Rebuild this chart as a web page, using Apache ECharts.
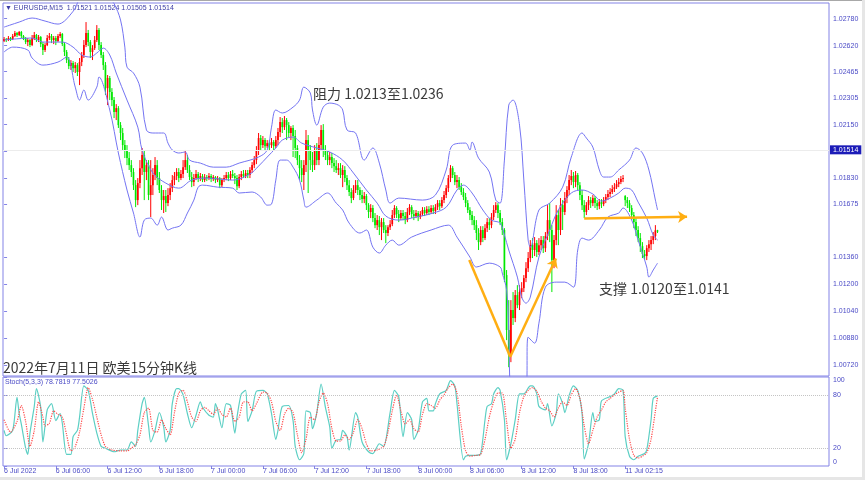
<!DOCTYPE html>
<html><head><meta charset="utf-8">
<script src="https://cdn.jsdelivr.net/npm/echarts@6/dist/echarts.min.js"></script>
<style>html,body{margin:0;padding:0;background:#fff}#c{width:865px;height:480px}</style>
</head><body><div id="c"></div>
<script>
const SLOTS = 383;
const tickLabels = ['6 Jul 2022','6 Jul 06:00','6 Jul 12:00','6 Jul 18:00','7 Jul 00:00','7 Jul 06:00','7 Jul 12:00','7 Jul 18:00','8 Jul 00:00','8 Jul 06:00','8 Jul 12:00','8 Jul 18:00','11 Jul 02:15'];
const yTickValues = [1.0072,1.0088,1.0104,1.0120,1.0136,1.01675,1.0183,1.0199,1.0215,1.02305,1.02465,1.0262,1.0278];
const stochTicks = [0,20,80,100];
const stochLevels = [20,80];
const symbolName = 'EURUSD#,M15';

const opens = [1.02647,1.02659,1.02653,1.02665,1.02659,1.02677,1.02695,1.02683,1.02701,1.02677,
1.02665,1.02641,1.02653,1.02623,1.02665,1.02683,1.02653,1.02671,1.02629,1.02594,
1.02623,1.02665,1.02677,1.02653,1.02665,1.02647,1.02677,1.02689,1.02629,1.02582,
1.02534,1.02498,1.02516,1.02486,1.02504,1.02463,1.02522,1.02564,1.02623,1.02695,
1.02641,1.02582,1.02605,1.02653,1.02713,1.02623,1.02564,1.02504,1.02367,1.02427,
1.02344,1.02296,1.02225,1.02248,1.02147,1.02100,1.02028,1.01999,1.01951,1.01909,
1.01868,1.01790,1.01701,1.01802,1.01891,1.01969,1.01868,1.01909,1.01731,1.01790,
1.01850,1.01909,1.01832,1.01761,1.01701,1.01725,1.01683,1.01731,1.01772,1.01820,
1.01844,1.01868,1.01832,1.01856,1.01897,1.01939,1.01880,1.01838,1.01808,1.01832,
1.01856,1.01832,1.01844,1.01820,1.01838,1.01832,1.01844,1.01826,1.01838,1.01820,
1.01832,1.01790,1.01820,1.01832,1.01850,1.01832,1.01856,1.01844,1.01832,1.01784,
1.01838,1.01856,1.01844,1.01862,1.01850,1.01880,1.01909,1.01939,1.01999,1.02070,
1.02028,1.02058,1.02022,1.02040,1.02028,1.02046,1.02022,1.02058,1.02106,1.02165,
1.02135,1.02177,1.02147,1.02100,1.02130,1.02082,1.02011,1.01939,1.01891,1.01850,
1.01909,1.02058,1.01999,1.01939,1.01909,1.01999,1.01939,1.02028,1.02118,1.01999,
1.01969,1.01939,1.01957,1.01921,1.01903,1.01880,1.01891,1.01850,1.01880,1.01832,
1.01790,1.01749,1.01713,1.01761,1.01790,1.01761,1.01731,1.01707,1.01725,1.01671,
1.01630,1.01654,1.01594,1.01552,1.01582,1.01540,1.01570,1.01523,1.01505,1.01540,
1.01558,1.01612,1.01654,1.01618,1.01594,1.01624,1.01606,1.01582,1.01630,1.01659,
1.01618,1.01606,1.01624,1.01600,1.01618,1.01642,1.01624,1.01647,1.01630,1.01654,
1.01636,1.01659,1.01683,1.01665,1.01701,1.01731,1.01772,1.01832,1.01891,1.01850,
1.01808,1.01820,1.01778,1.01749,1.01719,1.01683,1.01642,1.01612,1.01582,1.01552,
1.01505,1.01451,1.01523,1.01475,1.01534,1.01570,1.01552,1.01600,1.01642,1.01671,
1.01624,1.01570,1.01523,1.01255,1.00928,1.00779,1.01047,1.00999,1.01136,1.01076,
1.01154,1.01177,1.01237,1.01296,1.01356,1.01433,1.01404,1.01445,1.01392,1.01433,
1.01463,1.01415,1.01487,1.01582,1.01523,1.01344,1.01463,1.01612,1.01523,1.01671,
1.01630,1.01713,1.01761,1.01820,1.01844,1.01808,1.01850,1.01790,1.01731,1.01671,
1.01630,1.01671,1.01701,1.01683,1.01713,1.01683,1.01665,1.01689,1.01677,1.01701,
1.01719,1.01737,1.01749,1.01767,1.01778,1.01796,1.01808,1.01826,1.01725,1.01701,
1.01683,1.01654,1.01612,1.01570,1.01523,1.01475,1.01427,1.01380,1.01368,1.01415,
1.01439,1.01463,1.01487,1.01521];

const closes = [1.02659,1.02653,1.02665,1.02659,1.02677,1.02695,1.02683,1.02701,1.02677,1.02665,
1.02641,1.02653,1.02623,1.02665,1.02683,1.02653,1.02671,1.02629,1.02594,1.02623,
1.02665,1.02677,1.02653,1.02665,1.02647,1.02677,1.02689,1.02629,1.02582,1.02534,
1.02498,1.02516,1.02486,1.02504,1.02463,1.02522,1.02564,1.02623,1.02695,1.02641,
1.02582,1.02605,1.02653,1.02713,1.02623,1.02564,1.02504,1.02367,1.02427,1.02344,
1.02296,1.02225,1.02248,1.02147,1.02100,1.02028,1.01999,1.01951,1.01909,1.01868,
1.01790,1.01701,1.01802,1.01891,1.01969,1.01868,1.01909,1.01731,1.01790,1.01850,
1.01909,1.01832,1.01761,1.01701,1.01725,1.01683,1.01731,1.01772,1.01820,1.01844,
1.01868,1.01832,1.01856,1.01897,1.01939,1.01880,1.01838,1.01808,1.01832,1.01856,
1.01832,1.01844,1.01820,1.01838,1.01832,1.01844,1.01826,1.01838,1.01820,1.01832,
1.01790,1.01820,1.01832,1.01850,1.01832,1.01856,1.01844,1.01832,1.01784,1.01838,
1.01856,1.01844,1.01862,1.01850,1.01880,1.01909,1.01939,1.01999,1.02070,1.02028,
1.02058,1.02022,1.02040,1.02028,1.02046,1.02022,1.02058,1.02106,1.02165,1.02135,
1.02177,1.02147,1.02100,1.02130,1.02082,1.02011,1.01939,1.01891,1.01850,1.01909,
1.02058,1.01999,1.01939,1.01909,1.01999,1.01939,1.02028,1.02118,1.01999,1.01969,
1.01939,1.01957,1.01921,1.01903,1.01880,1.01891,1.01850,1.01880,1.01832,1.01790,
1.01749,1.01713,1.01761,1.01790,1.01761,1.01731,1.01707,1.01725,1.01671,1.01630,
1.01654,1.01594,1.01552,1.01582,1.01540,1.01570,1.01523,1.01505,1.01540,1.01558,
1.01612,1.01654,1.01618,1.01594,1.01624,1.01606,1.01582,1.01630,1.01659,1.01618,
1.01606,1.01624,1.01600,1.01618,1.01642,1.01624,1.01647,1.01630,1.01654,1.01636,
1.01659,1.01683,1.01665,1.01701,1.01731,1.01772,1.01832,1.01891,1.01850,1.01808,
1.01820,1.01778,1.01749,1.01719,1.01683,1.01642,1.01612,1.01582,1.01552,1.01505,
1.01451,1.01523,1.01475,1.01534,1.01570,1.01552,1.01600,1.01642,1.01671,1.01624,
1.01570,1.01523,1.01255,1.00928,1.00779,1.01047,1.00999,1.01136,1.01076,1.01154,
1.01177,1.01237,1.01296,1.01356,1.01433,1.01404,1.01445,1.01392,1.01433,1.01463,
1.01415,1.01487,1.01582,1.01523,1.01344,1.01463,1.01612,1.01523,1.01671,1.01630,
1.01713,1.01761,1.01820,1.01844,1.01808,1.01850,1.01790,1.01731,1.01671,1.01630,
1.01671,1.01701,1.01683,1.01713,1.01683,1.01665,1.01689,1.01677,1.01701,1.01719,
1.01737,1.01749,1.01767,1.01778,1.01796,1.01808,1.01826,1.01832,1.01701,1.01683,
1.01654,1.01612,1.01570,1.01523,1.01475,1.01427,1.01380,1.01368,1.01415,1.01439,
1.01463,1.01487,1.01521,1.01514];

const highs = [1.02671,1.02665,1.02677,1.02671,1.02689,1.02707,1.02701,1.02707,1.02707,1.02683,
1.02671,1.02665,1.02659,1.02683,1.02701,1.02689,1.02683,1.02677,1.02641,1.02635,
1.02683,1.02695,1.02689,1.02677,1.02677,1.02689,1.02701,1.02695,1.02641,1.02594,
1.02552,1.02534,1.02528,1.02522,1.02516,1.02546,1.02582,1.02653,1.02760,1.02713,
1.02653,1.02623,1.02677,1.02742,1.02724,1.02641,1.02582,1.02522,1.02445,1.02439,
1.02367,1.02314,1.02272,1.02260,1.02165,1.02130,1.02058,1.02028,1.01987,1.01939,
1.01891,1.01820,1.01832,1.01939,1.02011,1.01999,1.01939,1.01939,1.01939,1.01891,
1.01957,1.01939,1.01868,1.01790,1.01761,1.01761,1.01772,1.01802,1.01850,1.01868,
1.01891,1.01891,1.01880,1.01939,1.01999,1.01969,1.01909,1.01868,1.01856,1.01880,
1.01868,1.01862,1.01856,1.01856,1.01850,1.01862,1.01856,1.01850,1.01844,1.01844,
1.01838,1.01832,1.01850,1.01868,1.01868,1.01874,1.01880,1.01862,1.01850,1.01856,
1.01874,1.01880,1.01880,1.01880,1.01897,1.01927,1.01963,1.02022,1.02100,1.02088,
1.02082,1.02070,1.02058,1.02058,1.02070,1.02058,1.02082,1.02130,1.02195,1.02189,
1.02201,1.02189,1.02165,1.02141,1.02147,1.02118,1.02028,1.01969,1.01939,1.01939,
1.02118,1.02088,1.02028,1.01987,1.02028,1.02040,1.02076,1.02147,1.02153,1.02028,
1.01999,1.01987,1.01981,1.01951,1.01939,1.01921,1.01921,1.01909,1.01903,1.01850,
1.01820,1.01772,1.01790,1.01820,1.01820,1.01778,1.01761,1.01749,1.01737,1.01683,
1.01677,1.01671,1.01624,1.01612,1.01606,1.01594,1.01594,1.01552,1.01552,1.01582,
1.01642,1.01671,1.01665,1.01642,1.01642,1.01642,1.01630,1.01654,1.01677,1.01671,
1.01642,1.01642,1.01636,1.01636,1.01659,1.01659,1.01665,1.01665,1.01671,1.01671,
1.01677,1.01701,1.01701,1.01719,1.01755,1.01790,1.01850,1.01909,1.01903,1.01868,
1.01850,1.01838,1.01802,1.01772,1.01743,1.01701,1.01659,1.01636,1.01606,1.01582,
1.01534,1.01546,1.01546,1.01558,1.01594,1.01594,1.01624,1.01671,1.01689,1.01683,
1.01642,1.01594,1.01534,1.01285,1.01106,1.01106,1.01154,1.01166,1.01195,1.01195,
1.01213,1.01255,1.01332,1.01392,1.01463,1.01475,1.01481,1.01463,1.01475,1.01487,
1.01487,1.01511,1.01671,1.01683,1.01552,1.01493,1.01671,1.01642,1.01713,1.01701,
1.01749,1.01784,1.01850,1.01880,1.01868,1.01874,1.01862,1.01808,1.01761,1.01701,
1.01689,1.01725,1.01719,1.01731,1.01725,1.01701,1.01707,1.01707,1.01719,1.01737,
1.01761,1.01772,1.01790,1.01802,1.01820,1.01832,1.01844,1.01850,1.01731,1.01719,
1.01701,1.01671,1.01630,1.01594,1.01546,1.01505,1.01451,1.01404,1.01433,1.01463,
1.01487,1.01511,1.01552,1.01524];

const lows = [1.02641,1.02641,1.02647,1.02647,1.02653,1.02671,1.02671,1.02677,1.02665,1.02653,
1.02629,1.02617,1.02611,1.02617,1.02653,1.02641,1.02641,1.02611,1.02564,1.02582,
1.02617,1.02653,1.02635,1.02629,1.02623,1.02641,1.02665,1.02617,1.02558,1.02516,
1.02480,1.02475,1.02463,1.02457,1.02439,1.02385,1.02498,1.02546,1.02611,1.02617,
1.02546,1.02534,1.02594,1.02641,1.02594,1.02546,1.02475,1.02326,1.02266,1.02296,
1.02260,1.02189,1.02177,1.02130,1.02058,1.01999,1.01951,1.01909,1.01880,1.01838,
1.01761,1.01659,1.01671,1.01772,1.01850,1.01701,1.01820,1.01701,1.01600,1.01731,
1.01820,1.01790,1.01743,1.01642,1.01624,1.01630,1.01665,1.01701,1.01749,1.01790,
1.01820,1.01808,1.01820,1.01832,1.01880,1.01862,1.01820,1.01778,1.01784,1.01820,
1.01808,1.01814,1.01808,1.01808,1.01814,1.01820,1.01808,1.01814,1.01802,1.01808,
1.01772,1.01778,1.01808,1.01820,1.01814,1.01820,1.01832,1.01796,1.01761,1.01772,
1.01820,1.01832,1.01832,1.01832,1.01832,1.01862,1.01891,1.01915,1.01969,1.01999,
1.02011,1.01999,1.02011,1.01999,1.02011,1.01999,1.02011,1.02028,1.02076,1.02100,
1.02118,1.02058,1.02076,1.02058,1.01957,1.01951,1.01909,1.01820,1.01808,1.01761,
1.01868,1.01743,1.01880,1.01868,1.01880,1.01909,1.01909,1.01999,1.01957,1.01939,
1.01909,1.01909,1.01891,1.01868,1.01862,1.01850,1.01832,1.01778,1.01808,1.01761,
1.01725,1.01683,1.01701,1.01743,1.01731,1.01701,1.01683,1.01683,1.01642,1.01594,
1.01594,1.01570,1.01534,1.01523,1.01493,1.01463,1.01505,1.01445,1.01487,1.01523,
1.01546,1.01594,1.01594,1.01570,1.01582,1.01582,1.01558,1.01570,1.01612,1.01594,
1.01582,1.01594,1.01576,1.01588,1.01606,1.01606,1.01612,1.01612,1.01618,1.01618,
1.01618,1.01642,1.01642,1.01654,1.01683,1.01713,1.01749,1.01808,1.01832,1.01790,
1.01772,1.01761,1.01731,1.01701,1.01659,1.01624,1.01582,1.01552,1.01523,1.01463,
1.01404,1.01433,1.01451,1.01463,1.01511,1.01523,1.01534,1.01582,1.01624,1.01594,
1.01552,1.01493,1.01213,1.00868,1.00707,1.00737,1.00958,1.00975,1.01058,1.01047,
1.01118,1.01154,1.01213,1.01273,1.01332,1.01356,1.01368,1.01362,1.01374,1.01404,
1.01386,1.01392,1.01463,1.01451,1.01154,1.01296,1.01433,1.01433,1.01493,1.01523,
1.01612,1.01683,1.01731,1.01790,1.01772,1.01778,1.01761,1.01701,1.01642,1.01594,
1.01612,1.01642,1.01654,1.01665,1.01654,1.01642,1.01647,1.01654,1.01665,1.01683,
1.01701,1.01719,1.01737,1.01749,1.01767,1.01778,1.01796,1.01808,1.01665,1.01654,
1.01630,1.01582,1.01534,1.01487,1.01451,1.01392,1.01356,1.01344,1.01344,1.01392,
1.01404,1.01439,1.01463,1.01505];

const bbUpper = [[0,1.02730],[7,1.02760],[13,1.02784],[19,1.02766],[25,1.02748],[28,1.02766],[31,1.02808],[33,1.02843],[35,1.0290],[38,1.0294],[42,1.0297],[46,1.0295],[49,1.0290],[51,1.02870],[54,1.02772],[56,1.02611],[57,1.02492],[60,1.02457],[63,1.02373],[66,1.02118],[69,1.02100],[74,1.02100],[76,1.02040],[78,1.01999],[81,1.01981],[84,1.01987],[86,1.01939],[91,1.01921],[97,1.01897],[103,1.01897],[109,1.01921],[118,1.01957],[122,1.01999],[124,1.02135],[126,1.02237],[129,1.02219],[134,1.02254],[137,1.02296],[139,1.02373],[142,1.02338],[143,1.02237],[145,1.02147],[148,1.02254],[151,1.02278],[155,1.02266],[157,1.02237],[159,1.02118],[163,1.02100],[167,1.01939],[171,1.02011],[174,1.01921],[177,1.01761],[179,1.01683],[183,1.01713],[194,1.01701],[200,1.01731],[205,1.01880],[208,1.02028],[214,1.02040],[216,1.01999],[217,1.02046],[220,1.01951],[225,1.01868],[228,1.01701],[230,1.01683],[232,1.01939],[234,1.02266],[236,1.02296],[239,1.02147],[241,1.01820],[243,1.01463],[244,1.01421],[248,1.01642],[253,1.01683],[259,1.01778],[263,1.01957],[268,1.02100],[270,1.02070],[273,1.02016],[276,1.01880],[278,1.01838],[281,1.01838],[285,1.01880],[290,1.01939],[293,1.02011],[296,1.01981],[299,1.01880],[302,1.01701],[303,1.01642]];

const bbMiddle = [[0,1.02653],[13,1.02665],[18,1.02641],[27,1.02641],[32,1.02611],[36,1.02564],[40,1.02552],[43,1.02576],[46,1.02605],[49,1.02564],[52,1.02457],[57,1.02296],[62,1.02135],[64,1.01999],[69,1.01862],[75,1.01802],[81,1.01772],[87,1.01820],[94,1.01832],[106,1.01820],[114,1.01856],[118,1.01903],[122,1.01957],[126,1.02011],[129,1.02058],[134,1.02076],[138,1.02040],[145,1.02011],[151,1.01987],[157,1.01939],[162,1.01862],[168,1.01761],[173,1.01683],[177,1.01606],[183,1.01582],[191,1.01600],[199,1.01624],[205,1.01659],[210,1.01761],[213,1.01790],[217,1.01743],[222,1.01642],[226,1.01582],[230,1.01564],[232,1.01493],[234,1.01404],[238,1.01243],[240,1.01124],[242,1.01088],[244,1.01124],[248,1.01362],[253,1.01523],[257,1.01642],[263,1.01743],[268,1.01761],[273,1.01737],[277,1.01695],[281,1.01713],[285,1.01743],[288,1.01772],[291,1.01761],[294,1.01689],[298,1.01594],[301,1.01493],[303,1.01463]];

const bbLower = [[0,1.02582],[4,1.02611],[11,1.02594],[13,1.02546],[18,1.02504],[25,1.02522],[29,1.02552],[33,1.02373],[35,1.02296],[37,1.02356],[39,1.02296],[43,1.02373],[44,1.02433],[49,1.02237],[53,1.01981],[57,1.01761],[60,1.01624],[63,1.01481],[65,1.01582],[68,1.01594],[71,1.01552],[73,1.01600],[76,1.01523],[78,1.01534],[82,1.01552],[85,1.01624],[88,1.01701],[90,1.01778],[92,1.01790],[99,1.01778],[106,1.01772],[109,1.01743],[115,1.01749],[119,1.01719],[122,1.01671],[124,1.01677],[126,1.01820],[128,1.01939],[131,1.01939],[134,1.01897],[137,1.01820],[139,1.01701],[140,1.01659],[145,1.01701],[150,1.01743],[154,1.01683],[157,1.01642],[160,1.01564],[165,1.01505],[168,1.01523],[171,1.01421],[174,1.01386],[177,1.01433],[180,1.01463],[183,1.01433],[189,1.01481],[198,1.01523],[206,1.01552],[210,1.01481],[216,1.01362],[219,1.01303],[225,1.01326],[230,1.01303],[231,1.01267],[233,1.01166],[234,1.00928],[235,1.0051],[238,1.0033],[242,1.0051],[243,1.00886],[246,1.00850],[248,1.00969],[251,1.01183],[256,1.01213],[260,1.01213],[264,1.01183],[266,1.01404],[268,1.01475],[271,1.01463],[276,1.01523],[280,1.01600],[285,1.01624],[287,1.01654],[291,1.01582],[294,1.01463],[298,1.01303],[299,1.01243],[301,1.01285],[303,1.01326]];

const stochK = [[0,40],[1,34],[4,40],[6,77],[7,59],[8,47],[10,20],[11,13],[12,37],[14,67],[15,87],[17,66],[18,27],[20,63],[22,70],[24,51],[26,59],[27,48],[29,13],[31,13],[32,33],[34,40],[35,55],[37,90],[39,85],[41,59],[43,37],[45,22],[47,20],[51,16],[54,18],[57,18],[59,27],[61,22],[62,40],[64,70],[65,77],[67,45],[68,27],[70,40],[72,60],[74,44],[75,27],[77,40],[78,70],[80,87],[81,87],[83,80],[85,59],[87,43],[89,57],[91,72],[92,66],[95,57],[97,55],[98,70],[99,63],[101,43],[103,70],[105,68],[107,37],[108,55],[110,81],[112,85],[113,50],[115,62],[117,84],[120,85],[122,81],[124,59],[126,30],[127,40],[129,67],[132,68],[134,51],[135,22],[137,7],[139,14],[140,62],[142,60],[143,42],[145,60],[147,92],[149,66],[151,44],[152,20],[154,29],[156,30],[157,40],[159,33],[160,18],[163,60],[164,55],[166,27],[169,16],[171,14],[174,25],[176,22],[179,60],[181,85],[183,78],[185,33],[187,60],[189,52],[190,30],[192,40],[194,72],[196,76],[197,62],[199,62],[200,70],[202,81],[205,85],[207,96],[209,90],[210,70],[213,7],[214,11],[216,12],[219,12],[221,14],[223,52],[224,67],[226,70],[227,81],[229,88],[230,85],[232,52],[233,7],[235,25],[237,52],[239,81],[241,81],[244,90],[245,90],[247,81],[248,67],[251,63],[252,70],[254,45],[256,59],[257,81],[259,70],[260,60],[262,79],[264,90],[266,85],[268,59],[269,8],[271,25],[273,60],[274,50],[276,52],[277,73],[281,78],[283,81],[285,87],[287,85],[288,33],[290,11],[292,7],[294,11],[297,14],[298,18],[300,52],[301,76],[303,78.7819]];

const stochD = [[0,52],[3,38],[6,50],[8,68],[10,50],[12,22],[14,40],[16,72],[18,55],[19,45],[21,48],[23,62],[25,58],[27,55],[29,35],[31,17],[33,22],[35,38],[37,65],[39,88],[41,75],[43,55],[45,35],[47,22],[50,18],[54,17],[57,17],[59,20],[61,24],[63,35],[65,60],[67,65],[69,40],[71,38],[73,52],[75,42],[77,35],[79,60],[81,82],[83,85],[85,72],[87,55],[89,50],[91,62],[93,66],[95,62],[97,58],[99,65],[101,58],[103,55],[105,65],[107,50],[109,55],[111,72],[113,72],[115,62],[117,70],[120,83],[122,82],[124,72],[126,50],[128,40],[130,58],[132,65],[134,60],[136,35],[138,15],[140,30],[142,55],[144,52],[146,72],[148,82],[150,70],[152,42],[154,28],[156,28],[158,35],[160,30],[162,38],[164,52],[166,42],[168,25],[170,17],[173,18],[176,22],[178,38],[180,62],[182,80],[184,62],[186,47],[188,52],[190,42],[192,38],[194,58],[196,70],[198,68],[200,65],[202,74],[204,80],[206,88],[208,92],[210,82],[212,45],[214,17],[216,11],[219,12],[221,13],[223,30],[225,55],[227,72],[229,82],[231,82],[233,50],[235,20],[237,30],[239,60],[241,78],[243,85],[245,88],[247,84],[249,73],[251,65],[253,62],[255,55],[257,65],[259,72],[261,68],[263,80],[265,87],[267,76],[269,45],[271,25],[273,40],[275,55],[277,63],[279,72],[281,76],[283,80],[285,83],[287,85],[288,65],[290,30],[292,12],[294,9],[296,11],[298,15],[300,30],[302,62],[303,77.5026]];

const vLeftLine = [[215.7,1.01344],[234.7,1.00769]];
const vRightArrow = [[234.7,1.00769],[255.9,1.01354]];
const flatArrow = [[269,1.01592],[316.7,1.01602]];
const resistanceText = '阻力 1.0213至1.0236';
const supportText = '支撑 1.0120至1.0141';
const captionText = '2022年7月11日 欧美15分钟K线';

// ---------- build ----------
const last = closes.length - 1;
const cats = Array.from({length: SLOTS}, (_, i) => String(i));
const candleRows = opens.map((o, i) => [i, o, closes[i], lows[i], highs[i]]);
const headerText = '\u25BC ' + symbolName + '  ' + [opens[last], highs[last], lows[last], closes[last]].map(v => v.toFixed(5)).join(' ');
const stochText = 'Stoch(5,3,3) ' + stochK[stochK.length-1][1].toFixed(4) + ' ' + stochD[stochD.length-1][1].toFixed(4);

const axisBlue = '#8383e6';
const labelBlue = '#4a4ac6';
const smallFont = '"Liberation Sans", Arial, sans-serif';
const cjkFont = '"Noto Sans CJK SC", "Noto Sans", sans-serif';
const showTick = (idx) => idx % 24 === 0 && idx / 24 < tickLabels.length;
const bandStyle = {color: '#7474f2', width: 1};
const orange = '#FFAE12';
const upColor = '#ff0000';
const downColor = '#00e800';

function renderCandle(params, api) {
  const i = api.value(0), o = api.value(1), c = api.value(2), l = api.value(3), h = api.value(4);
  const pO = api.coord([i, o]);
  const pC = api.coord([i, c]);
  const pL = api.coord([i, l]);
  const pH = api.coord([i, h]);
  const color = c > o ? upColor : downColor;
  const x = pO[0];
  const top = Math.min(pO[1], pC[1]);
  const hgt = Math.max(Math.abs(pO[1] - pC[1]), 1);
  return {
    type: 'group',
    children: [
      {type: 'line', shape: {x1: x, y1: pH[1], x2: x, y2: pL[1]}, style: {stroke: color, lineWidth: 1}},
      {type: 'rect', shape: {x: x - 0.85, y: top, width: 1.7, height: hgt}, style: {fill: color}}
    ]
  };
}

const chart = echarts.init(document.getElementById('c'), null, {renderer: 'canvas'});
chart.setOption({
  animation: false,
  backgroundColor: '#ffffff',
  grid: [
    {left: 3, right: 36, top: 3, height: 373, show: true, borderColor: axisBlue, borderWidth: 1},
    {left: 3, right: 36, top: 377, height: 89, show: true, borderColor: axisBlue, borderWidth: 1}
  ],
  xAxis: [
    {type: 'category', gridIndex: 0, data: cats, boundaryGap: true, axisLine: {show: false}, axisTick: {show: false}, axisLabel: {show: false}, splitLine: {show: false}},
    {type: 'value', gridIndex: 0, min: -0.5, max: SLOTS - 0.5, show: false},
    {type: 'category', gridIndex: 1, data: cats, boundaryGap: true, axisLine: {show: false},
      axisTick: {show: true, alignWithLabel: true, interval: showTick, length: 3, lineStyle: {color: axisBlue}},
      axisLabel: {show: true, interval: showTick, align: 'left', margin: 2, color: labelBlue, fontSize: 7, fontFamily: smallFont,
        formatter: (v, idx) => tickLabels[Math.round(idx / 24)] || ''},
      splitLine: {show: false}},
    {type: 'value', gridIndex: 1, min: -0.5, max: SLOTS - 0.5, show: false}
  ],
  yAxis: [
    {type: 'value', gridIndex: 0, position: 'right', min: 1.006546, max: 1.028734, scale: true,
      splitLine: {show: false}, axisLine: {show: false},
      axisTick: {show: true, length: 3, customValues: yTickValues, lineStyle: {color: axisBlue}},
      axisLabel: {show: true, customValues: yTickValues, formatter: v => v.toFixed(5), color: labelBlue, fontSize: 7, fontFamily: smallFont, margin: 4}},
    {type: 'value', gridIndex: 1, position: 'right', min: 0, max: 100,
      splitLine: {show: false}, axisLine: {show: false},
      axisTick: {show: true, length: 3, customValues: stochTicks, lineStyle: {color: axisBlue}},
      axisLabel: {show: true, customValues: stochTicks, color: labelBlue, fontSize: 7, fontFamily: smallFont, margin: 4,
        verticalAlignMaxLabel: 'top', verticalAlignMinLabel: 'bottom'}}
  ],
  series: [
    {type: 'custom', name: 'EURUSD', xAxisIndex: 1, yAxisIndex: 0, data: candleRows, renderItem: renderCandle, clip: true, z: 2,
      encode: {x: 0, y: [1, 2, 3, 4]},
      markLine: {silent: true, symbol: 'none', animation: false,
        lineStyle: {color: '#ececec', width: 1, type: 'solid'},
        label: {show: true, position: 'end', formatter: () => closes[last].toFixed(5), color: '#ffffff', backgroundColor: '#1c1cb8', padding: [1, 3], fontSize: 7, fontFamily: smallFont, distance: 1},
        data: [{yAxis: closes[last]}]}},
    {type: 'line', name: 'upper', xAxisIndex: 1, yAxisIndex: 0, data: bbUpper, showSymbol: false, smooth: 0.35, lineStyle: bandStyle, z: 3},
    {type: 'line', name: 'middle', xAxisIndex: 1, yAxisIndex: 0, data: bbMiddle, showSymbol: false, smooth: 0.35, lineStyle: bandStyle, z: 3,
      markLine: {silent: true, animation: false, symbol: ['none', 'arrow'], symbolSize: 9,
        lineStyle: {color: orange, width: 2.5, type: 'solid'}, label: {show: false},
        data: [
          [{coord: vLeftLine[0], symbol: 'none'}, {coord: vLeftLine[1], symbol: 'none'}],
          [{coord: vRightArrow[0], symbol: 'none'}, {coord: vRightArrow[1], symbol: 'arrow'}],
          [{coord: flatArrow[0], symbol: 'none'}, {coord: flatArrow[1], symbol: 'arrow'}]
        ]}},
    {type: 'line', name: 'lower', xAxisIndex: 1, yAxisIndex: 0, data: bbLower, showSymbol: false, smooth: 0.35, lineStyle: bandStyle, z: 3},
    {type: 'line', name: 'K', xAxisIndex: 3, yAxisIndex: 1, data: stochK, showSymbol: false, smooth: 0.25, lineStyle: {color: '#5ccfc4', width: 1.2}, z: 3,
      markLine: {silent: true, symbol: 'none', animation: false, label: {show: false},
        lineStyle: {color: '#c4c4c4', width: 1, type: 'dotted'},
        data: stochLevels.map(v => ({yAxis: v}))}},
    {type: 'line', name: 'D', xAxisIndex: 3, yAxisIndex: 1, data: stochD, showSymbol: false, smooth: 0.25, lineStyle: {color: '#ff4a4a', width: 1.2, type: 'dotted'}, z: 4}
  ],
  graphic: [
    {type: 'rect', shape: {x: 0, y: 0, width: 865, height: 1}, style: {fill: '#a8a8a8'}, silent: true},
    {type: 'rect', shape: {x: 862, y: 0, width: 3, height: 480}, style: {fill: '#e6e6e6'}, silent: true},
    {type: 'rect', shape: {x: 0, y: 477, width: 865, height: 3}, style: {fill: '#e6e6e6'}, silent: true},
    {type: 'text', x: 5, y: 8, style: {text: headerText, fill: '#3b3ba6', font: '7px ' + smallFont, verticalAlign: 'middle'}, silent: true},
    {type: 'text', x: 5, y: 382.5, style: {text: stochText, fill: '#4a4ac6', font: '7px ' + smallFont, verticalAlign: 'middle'}, silent: true},
    {type: 'text', x: 313, y: 94, style: {text: resistanceText, fill: '#3a3a3a', font: '14px ' + cjkFont, verticalAlign: 'middle'}, silent: true},
    {type: 'text', x: 599, y: 288.5, style: {text: supportText, fill: '#3a3a3a', font: '14px ' + cjkFont, verticalAlign: 'middle'}, silent: true},
    {type: 'text', x: 3, y: 368, style: {text: captionText, fill: '#3a3a3a', font: '14px ' + cjkFont, verticalAlign: 'middle'}, silent: true}
  ]
});
</script>
</body></html>
